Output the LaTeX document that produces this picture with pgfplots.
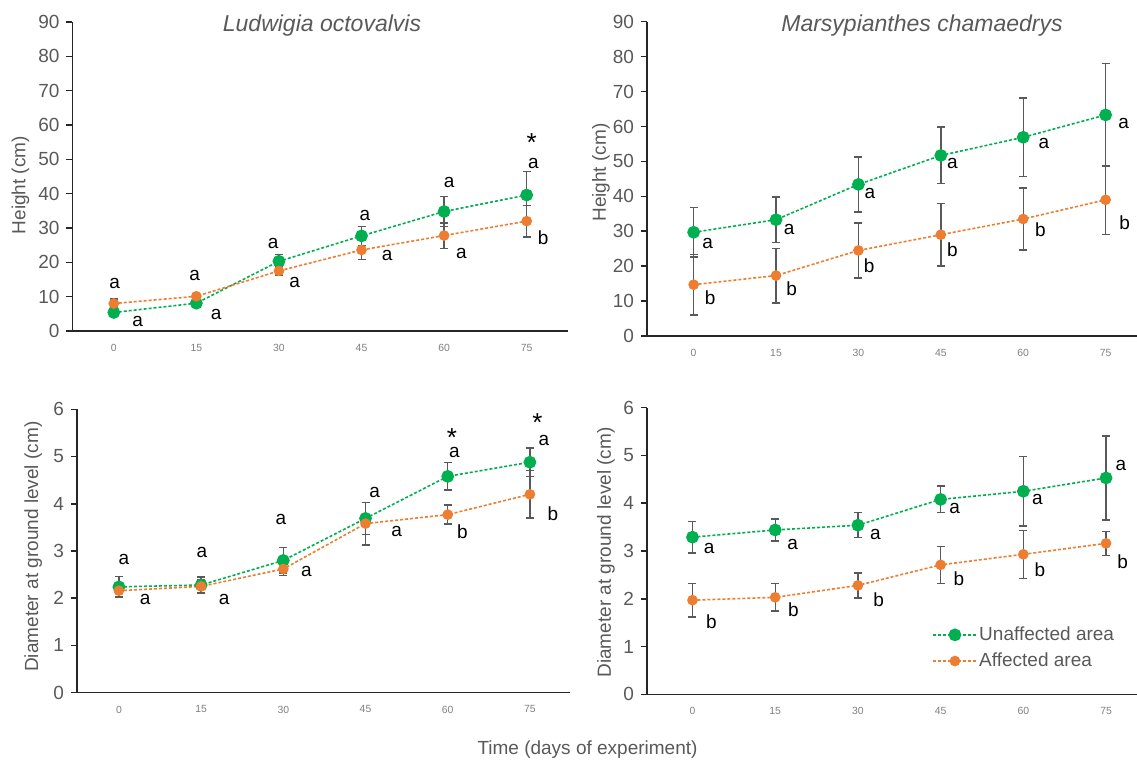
\documentclass[border=0pt]{standalone}
\usepackage{pgfplots}
\usepackage{pgfplotstable}
\pgfplotsset{compat=1.18}
\usepackage{fontspec}
\setmainfont{Liberation Sans}
\definecolor{cgreen}{HTML}{00B050}
\definecolor{corange}{HTML}{ED7D31}
\definecolor{cerr}{HTML}{595959}
\definecolor{ctick}{HTML}{595959}
\definecolor{cxtick}{HTML}{7F7F7F}

% Ludwigia octovalvis - height
\pgfplotstableread{
x y e
0 5.4 1.0
1 8.1 1.0
2 20.3 2.0
3 27.7 2.8
4 34.8 4.4
5 39.6 6.8
}\TLg
\pgfplotstableread{
x y e
0 8.0 1.3
1 10.1 0.8
2 17.5 1.4
3 23.6 2.7
4 27.8 3.7
5 32.0 4.6
}\TLo
% Marsypianthes chamaedrys - height
\pgfplotstableread{
x y e
0 29.7 7.1
1 33.3 6.5
2 43.4 7.9
3 51.7 8.1
4 56.9 11.3
5 63.3 14.8
}\TRg
\pgfplotstableread{
x y e
0 14.7 8.7
1 17.3 7.8
2 24.5 7.9
3 29.0 8.9
4 33.5 8.9
5 39.0 9.9
}\TRo
% Ludwigia octovalvis - diameter
\pgfplotstableread{
x y e
0 2.24 0.22
1 2.28 0.17
2 2.80 0.27
3 3.69 0.34
4 4.58 0.29
5 4.88 0.30
}\BLg
\pgfplotstableread{
x y e
0 2.16 0.13
1 2.25 0.15
2 2.62 0.14
3 3.58 0.45
4 3.77 0.20
5 4.20 0.50
}\BLo
% Marsypianthes chamaedrys - diameter
\pgfplotstableread{
x y e
0 3.29 0.33
1 3.44 0.23
2 3.54 0.26
3 4.08 0.28
4 4.25 0.73
5 4.53 0.88
}\BRg
\pgfplotstableread{
x y e
0 1.97 0.35
1 2.03 0.29
2 2.28 0.26
3 2.71 0.39
4 2.93 0.50
5 3.16 0.25
}\BRo

\tikzset{lbl/.style={font=\fontsize{9.5}{11}\selectfont, inner sep=0pt, text=black},
         star/.style={font=\fontsize{13}{14}\selectfont, inner sep=0pt, text=black}}

\pgfplotsset{
  panel/.style={
    scale only axis, anchor=south west,
    axis lines*=left,
    axis line style={black!85, line width=0.75pt},
    xtick={0,...,5}, xticklabels={0,15,30,45,60,75},
    xtick style={draw=none},
    ytick style={black!85, line width=0.75pt},
    tick align=outside, major tick length=3pt,
    xticklabel style={font=\fontsize{5.2}{6}\selectfont, text=cxtick},
    yticklabel style={font=\fontsize{9.5}{11}\selectfont, text=ctick},
    /pgf/number format/assume math mode=true,
    ylabel style={font=\fontsize{9.5}{11}\selectfont, text=ctick, anchor=center},
    clip=false,
    legend image code/.code={
      \draw[mark repeat=2,mark phase=2,##1] plot coordinates {(0pt,0pt) (10.75pt,0pt) (21.5pt,0pt)};
    },
  },
  gser/.style={color=cgreen, dash pattern=on 1.5pt off 1pt, line width=0.8pt,
    mark=*, mark size=2.8pt, mark options={solid},
    error bars/.cd, y dir=both, y explicit,
    error bar style={solid, cerr, line width=0.7pt},
    error mark options={rotate=90, mark size=2pt, cerr, line width=0.7pt, solid}},
  oser/.style={color=corange, dash pattern=on 1.5pt off 1pt, line width=0.8pt,
    mark=*, mark size=2.25pt, mark options={solid},
    error bars/.cd, y dir=both, y explicit,
    error bar style={solid, cerr, line width=0.7pt},
    error mark options={rotate=90, mark size=2pt, cerr, line width=0.7pt, solid}},
}

\begin{document}
\begin{tikzpicture}
\useasboundingbox (0,0) rectangle (568.5pt,380pt);

% Top left
\begin{axis}[panel, at={(36.25pt,214.5pt)}, width=247.75pt, height=154.5pt,
  xmin=-0.5, xmax=5.5, ymin=0, ymax=90, ytick={0,10,...,90},
  ylabel={Height (cm)}, ylabel style={at={(axis description cs:-0.105,0.472)}}]
\addplot[gser] table[x=x,y=y,y error=e] {\TLg};
\addplot[oser] table[x=x,y=y,y error=e] {\TLo};
\node[lbl] at (axis cs:0.01,13.9) {a};
\node[lbl] at (axis cs:0.29,2.7) {a};
\node[lbl] at (axis cs:0.98,16.3) {a};
\node[lbl] at (axis cs:1.24,4.7) {a};
\node[lbl] at (axis cs:1.93,25.5) {a};
\node[lbl] at (axis cs:2.19,14.1) {a};
\node[lbl] at (axis cs:3.04,33.5) {a};
\node[lbl] at (axis cs:3.31,22.1) {a};
\node[lbl] at (axis cs:4.06,43.2) {a};
\node[lbl] at (axis cs:4.21,22.6) {a};
\node[star] at (axis cs:5.06,54.9) {*};
\node[lbl] at (axis cs:5.08,48.8) {a};
\node[lbl] at (axis cs:5.20,27.3) {b};
\end{axis}

% Top right
\begin{axis}[panel, at={(323.5pt,212pt)}, width=249.9pt, height=157.15pt,
  xmin=-0.566, xmax=5.5, ymin=0, ymax=90, ytick={0,10,...,90},
  ylabel={Height (cm)}, ylabel style={at={(axis description cs:-0.092,0.52)}}]
\addplot[gser] table[x=x,y=y,y error=e] {\TRg};
\addplot[oser] table[x=x,y=y,y error=e] {\TRo};
\node[lbl] at (axis cs:0.17,26.5) {a};
\node[lbl] at (axis cs:0.20,11.1) {b};
\node[lbl] at (axis cs:1.16,30.5) {a};
\node[lbl] at (axis cs:1.19,13.6) {b};
\node[lbl] at (axis cs:2.14,40.8) {a};
\node[lbl] at (axis cs:2.13,20.1) {b};
\node[lbl] at (axis cs:3.14,49.4) {a};
\node[lbl] at (axis cs:3.14,24.6) {b};
\node[lbl] at (axis cs:4.25,55.2) {a};
\node[lbl] at (axis cs:4.21,30.3) {b};
\node[lbl] at (axis cs:5.22,60.9) {a};
\node[lbl] at (axis cs:5.23,32.5) {b};
\end{axis}

% Bottom left
\begin{axis}[panel, at={(38.5pt,33.65pt)}, width=246.6pt, height=141.7pt,
  xmin=-0.51, xmax=5.49, ymin=0, ymax=6, ytick={0,1,...,6},
  ylabel={Diameter at ground level (cm)}, ylabel style={at={(axis description cs:-0.089,0.515)}}]
\addplot[gser] table[x=x,y=y,y error=e] {\BLg};
\addplot[oser] table[x=x,y=y,y error=e] {\BLo};
\node[lbl] at (axis cs:0.06,2.83) {a};
\node[lbl] at (axis cs:0.32,1.98) {a};
\node[lbl] at (axis cs:1.01,2.97) {a};
\node[lbl] at (axis cs:1.28,1.98) {a};
\node[lbl] at (axis cs:1.97,3.66) {a};
\node[lbl] at (axis cs:2.28,2.56) {a};
\node[lbl] at (axis cs:3.11,4.24) {a};
\node[lbl] at (axis cs:3.38,3.41) {a};
\node[star] at (axis cs:4.05,5.41) {*};
\node[lbl] at (axis cs:4.08,5.08) {a};
\node[lbl] at (axis cs:4.18,3.41) {b};
\node[star] at (axis cs:5.09,5.72) {*};
\node[lbl] at (axis cs:5.17,5.35) {a};
\node[lbl] at (axis cs:5.28,3.78) {b};
\end{axis}

% Bottom right
\begin{axis}[panel, at={(323.5pt,32.85pt)}, width=250.2pt, height=143.3pt,
  xmin=-0.55, xmax=5.5, ymin=0, ymax=6, ytick={0,1,...,6},
  ylabel={Diameter at ground level (cm)}, ylabel style={at={(axis description cs:-0.082,0.495)}},
  legend style={at={(axis description cs:0.570,0.245)}, anchor=north west,
    draw=none, fill=none, inner sep=0pt, row sep=2.7pt,
    font=\fontsize{9.5}{11}\selectfont, text=ctick, nodes={inner sep=1pt}},
  legend cell align=left]
\addplot[gser] table[x=x,y=y,y error=e] {\BRg};
\addlegendentry{Unaffected area}
\addplot[oser] table[x=x,y=y,y error=e] {\BRo};
\addlegendentry{Affected area}
\node[lbl] at (axis cs:0.20,3.06) {a};
\node[lbl] at (axis cs:0.23,1.52) {b};
\node[lbl] at (axis cs:1.21,3.14) {a};
\node[lbl] at (axis cs:1.22,1.77) {b};
\node[lbl] at (axis cs:2.21,3.35) {a};
\node[lbl] at (axis cs:2.25,1.99) {b};
\node[lbl] at (axis cs:3.17,3.88) {a};
\node[lbl] at (axis cs:3.22,2.43) {b};
\node[lbl] at (axis cs:4.17,4.07) {a};
\node[lbl] at (axis cs:4.20,2.60) {b};
\node[lbl] at (axis cs:5.18,4.80) {a};
\node[lbl] at (axis cs:5.20,2.78) {b};
\end{axis}

\node[font=\fontsize{11.5}{13}\selectfont\itshape, text=ctick] at (161pt,367pt) {Ludwigia octovalvis};
\node[font=\fontsize{11.5}{13}\selectfont\itshape, text=ctick] at (461pt,367pt) {Marsypianthes chamaedrys};
\node[font=\fontsize{9.5}{11}\selectfont, text=ctick] at (293.75pt,5pt) {Time (days of experiment)};
\end{tikzpicture}
\end{document}
